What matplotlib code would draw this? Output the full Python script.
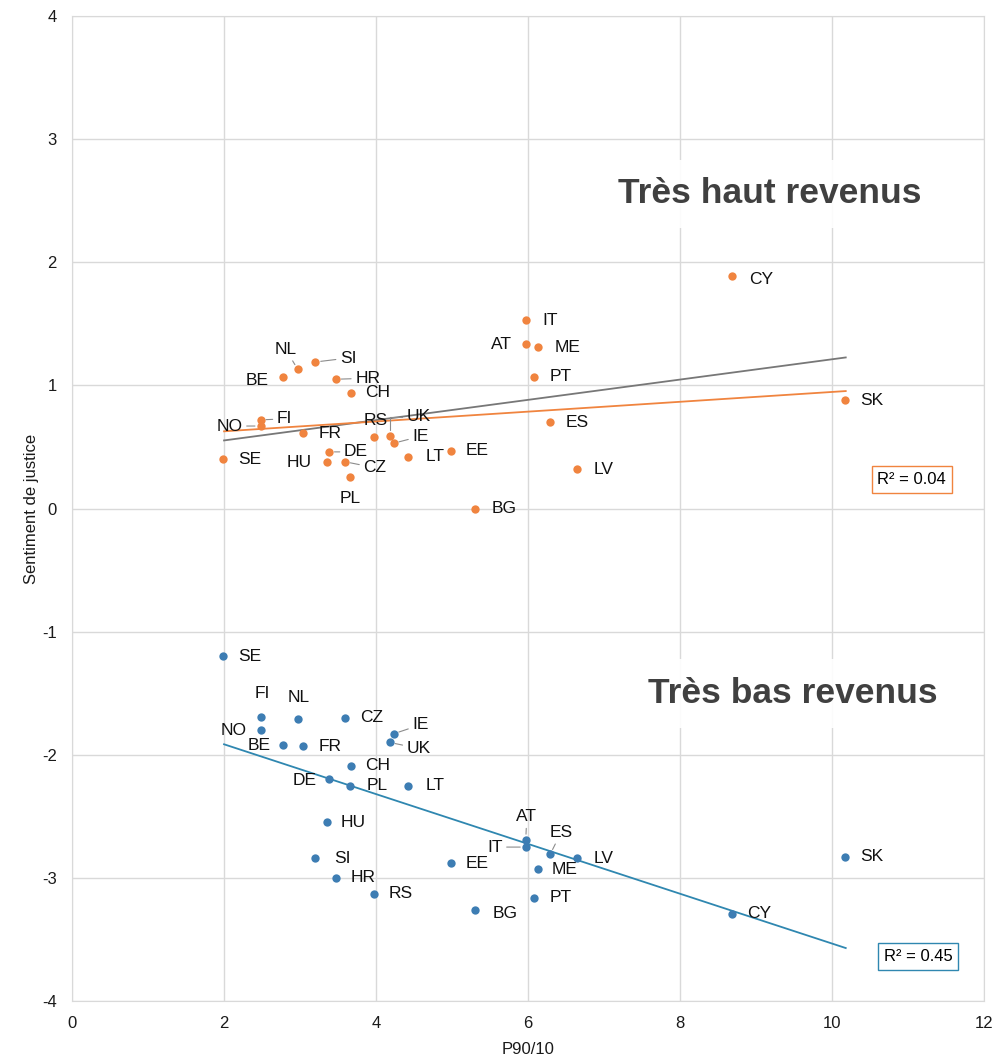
import matplotlib
matplotlib.use("Agg")
import matplotlib.pyplot as plt

plt.rcParams['font.family'] = ['Liberation Sans', 'DejaVu Sans']
plt.rcParams['axes.unicode_minus'] = False

# data
countries = ["SE", "FI", "NO", "BE", "NL", "SI", "HR", "CH", "FR", "DE", "HU", "CZ", "PL", "RS",
             "UK", "IE", "LT", "EE", "BG", "IT", "AT", "ME", "PT", "ES", "LV", "CY", "SK"]
p90_10 = [1.98, 2.48, 2.48, 2.78, 2.97, 3.20, 3.47, 3.67, 3.04, 3.38, 3.35, 3.59, 3.66, 3.97,
          4.18, 4.23, 4.42, 4.98, 5.30, 5.97, 5.97, 6.13, 6.08, 6.29, 6.64, 8.69, 10.17]
sentiment_high = [0.40, 0.72, 0.67, 1.07, 1.13, 1.19, 1.05, 0.94, 0.61, 0.46, 0.38, 0.38, 0.26, 0.58,
                  0.59, 0.53, 0.42, 0.47, 0.00, 1.53, 1.34, 1.31, 1.07, 0.70, 0.32, 1.89, 0.88]
sentiment_low = [-1.20, -1.69, -1.80, -1.92, -1.71, -2.84, -3.00, -2.09, -1.93, -2.20, -2.55, -1.70, -2.25, -3.13,
                 -1.90, -1.83, -2.25, -2.88, -3.26, -2.75, -2.69, -2.93, -3.16, -2.81, -2.84, -3.29, -2.83]

trend_x = [2.0, 10.18]
trend_high = [0.627, 0.954]
trend_all = [0.553, 1.227]
trend_low = [-1.915, -3.57]
r2_high = 0.04
r2_low = 0.45

orange = '#F0843F'
blue = '#3D7DB3'
blue_line = '#2F87B0'
grid_c = '#d9d9d9'
leader_c = '#8c8c8c'

# label offsets in pixels (default: to the right of the dot)
default_off = (27, 0)
off_high = {"FI": (24, 1), "NO": (-31, 0), "BE": (-26, -4), "NL": (-12, 20), "SI": (33, 4),
            "HR": (32, 1), "HU": (-27, -1), "CZ": (30, -6), "PL": (0, -22), "RS": (2, 17),
            "UK": (29, 19), "IE": (27, 7), "AT": (-24, -1), "IT": (24, 0), "CY": (29, -4),
            "ME": (30, 0), "BG": (29, 0)}
off_low = {"FI": (2, 23), "NL": (1, 22), "NO": (-27, 0), "BE": (-24, -1), "IE": (27, 9),
           "UK": (29, -6), "DE": (-24, -1), "AT": (1, 23), "ES": (11, 22), "IT": (-31, 0),
           "BG": (30, -4)}
leaders_high = {"NL", "SI", "HR", "FI", "NO", "UK", "IE", "DE", "CZ"}
leaders_low = {"IE", "UK", "AT", "IT", "ES"}

fig = plt.figure(figsize=(9.95, 10.56), dpi=100)
ax = fig.add_axes([0.0724, 0.0521, 0.9166, 0.9327])

ax.set_xlim(0, 12)
ax.set_ylim(-4, 4)
ax.set_xticks(range(0, 13, 2))
ax.set_yticks(range(-4, 5))
ax.grid(True, color=grid_c, lw=1.0)
ax.set_axisbelow(True)
for s in ax.spines.values():
    s.set_color(grid_c)
ax.tick_params(length=0, pad=11, labelsize=12, labelcolor='#1a1a1a')
ax.set_xlabel("P90/10", fontsize=12, labelpad=8, color='#1a1a1a')
ax.set_ylabel("Sentiment de justice", fontsize=12, labelpad=2, color='#1a1a1a')

ax.plot(trend_x, trend_all, color='#777777', lw=1.3, zorder=2)
ax.plot(trend_x, trend_high, color=orange, lw=1.3, zorder=2)
ax.plot(trend_x, trend_low, color=blue_line, lw=1.3, zorder=2)

ax.scatter(p90_10, sentiment_high, s=36, color=orange, lw=0, zorder=3)
ax.scatter(p90_10, sentiment_low, s=36, color=blue, lw=0, zorder=3)


def put_labels(ys, offs, leaders):
    for c, x, y in zip(countries, p90_10, ys):
        dx, dy = offs.get(c, default_off)
        kw = {}
        if c in leaders:
            cs = "angle,angleA=0,angleB=90,rad=0" if (c == "UK" and dy > 10) else "arc3"
            kw['arrowprops'] = dict(arrowstyle='-', color=leader_c, lw=0.8,
                                    shrinkA=1, shrinkB=4, connectionstyle=cs)
        ax.annotate(c, (x, y), xytext=(dx, dy), textcoords='offset pixels',
                    ha='center', va='center', fontsize=12.5, color='#111111', zorder=4, **kw)


put_labels(sentiment_high, off_high, leaders_high)
put_labels(sentiment_low, off_low, leaders_low)

title_box = dict(boxstyle='square,pad=0.5', fc='white', ec='none', alpha=0.92)
ax.text(9.18, 2.478, "Très haut revenus", ha='center', va='baseline', fontsize=25.5,
        weight='bold', color='#404040', bbox=title_box, zorder=2.5)
ax.text(9.49, -1.578, "Très bas revenus", ha='center', va='baseline', fontsize=25.5,
        weight='bold', color='#404040', bbox=title_box, zorder=2.5)

ax.text(11.05, 0.236, f"R² = {r2_high:.2f}", ha='center', va='center', fontsize=12,
        bbox=dict(boxstyle='square,pad=0.35', fc='white', ec=orange, lw=1.0), zorder=4)
ax.text(11.13, -3.64, f"R² = {r2_low:.2f}", ha='center', va='center', fontsize=12,
        bbox=dict(boxstyle='square,pad=0.35', fc='white', ec=blue_line, lw=1.0), zorder=4)

fig.savefig("out.png", dpi=100)
